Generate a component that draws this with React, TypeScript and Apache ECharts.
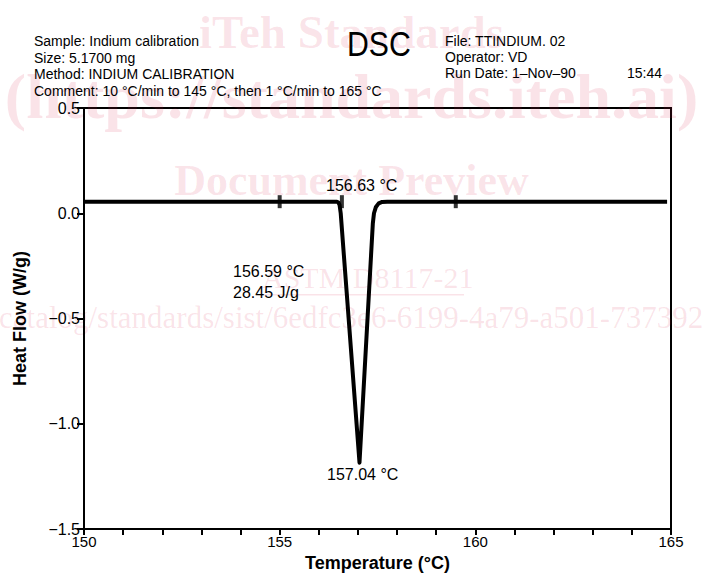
import React, { useEffect, useRef } from "react";
import * as echarts from "echarts";

const temps = [150, 156.45, 156.5, 156.53, 156.56, 157.04, 157.38, 157.41, 157.46, 157.53, 157.62, 157.75, 164.9];
const heatFlow = [0.055, 0.055, 0.052, 0.04, 0.0, -1.185, -0.05, 0.0, 0.03, 0.047, 0.054, 0.055, 0.055];
const markTemps = [155.0, 156.59, 159.5];
const markFlow = [0.055, 0.055, 0.055];
const headerLeft = [
  "Sample: Indium calibration",
  "Size: 5.1700 mg",
  "Method: INDIUM CALIBRATION",
  "Comment: 10 °C/min to 145 °C, then 1 °C/min to 165 °C",
];
const headerRight = ["File: TTINDIUM. 02", "Operator: VD", "Run Date: 1–Nov–90"];

const FONT = "'Liberation Sans', Arial, sans-serif";
const SERIF = "'Liberation Serif', 'DejaVu Serif', serif";
const WM = "rgba(220, 40, 80, 0.13)";

export default function App() {
  const ref = useRef<HTMLDivElement>(null);
  useEffect(() => {
    if (!ref.current) return;
    const chart = echarts.init(ref.current, null, { renderer: "svg" });
    const fmt = (v: number) => v.toFixed(1).replace("-", "−");
    const graphic: any[] = [
      { type: "text", z: 0, left: "center", top: 8, style: { text: "iTeh Standards", font: `bold 47px ${SERIF}`, fill: WM } },
      { type: "text", z: 0, left: "center", top: 64, style: { text: "(https://standards.iteh.ai)", font: `bold 64px ${SERIF}`, fill: WM } },
      { type: "text", z: 0, left: "center", top: 158, style: { text: "Document Preview", font: `bold 44px ${SERIF}`, fill: WM } },
      { type: "text", z: 0, x: 262, y: 262, style: { text: "ASTM D8117-21", font: `30px ${SERIF}`, fill: WM } },
      { type: "rect", z: 0, shape: { x: 262, y: 294, width: 202, height: 1.5 }, style: { fill: WM } },
      { type: "text", z: 0, x: -1, y: 302, style: { text: "catalog/standards/sist/6edfc3e6-6199-4a79-a501-737392d30d3f", font: `31px ${SERIF}`, fill: WM } },
      { type: "text", z: 10, x: 347, y: 26, scaleX: 0.84, style: { text: "DSC", font: `36px ${FONT}`, fill: "#000" } },
      { type: "text", z: 10, x: 627, y: 66, style: { text: "15:44", font: `14px ${FONT}`, fill: "#000" } },
      { type: "text", z: 10, x: 326, y: 177, style: { text: "156.63 °C", font: `16px ${FONT}`, fill: "#000" } },
      { type: "text", z: 10, x: 233, y: 261, style: { text: "156.59 °C\n28.45 J/g", font: `16px ${FONT}`, lineHeight: 21, fill: "#000" } },
      { type: "text", z: 10, x: 327, y: 466, style: { text: "157.04 °C", font: `16px ${FONT}`, fill: "#000" } },
    ];
    headerLeft.forEach((t, i) =>
      graphic.push({ type: "text", z: 10, x: 34, y: 34 + i * 16.6, style: { text: t, font: `14px ${FONT}`, fill: "#000" } })
    );
    headerRight.forEach((t, i) =>
      graphic.push({ type: "text", z: 10, x: 445, y: 34 + i * 16, style: { text: t, font: `14px ${FONT}`, fill: "#000" } })
    );
    chart.setOption({
      animation: false,
      backgroundColor: "#fff",
      graphic,
      grid: { left: 84, right: 32, top: 108, bottom: 52, show: true, borderColor: "#000", borderWidth: 2, backgroundColor: "transparent" },
      xAxis: {
        type: "value",
        min: 150,
        max: 165,
        interval: 1,
        name: "Temperature (°C)",
        nameLocation: "middle",
        nameGap: 25,
        nameTextStyle: { fontFamily: FONT, fontWeight: "bold", fontSize: 18, color: "#000" },
        axisLine: { onZero: false, lineStyle: { color: "#000", width: 2 } },
        axisTick: { length: 6, lineStyle: { color: "#000", width: 2 } },
        axisLabel: {
          fontFamily: FONT,
          fontSize: 15,
          color: "#000",
          margin: 5,
          formatter: (v: number) => (v % 5 === 0 ? String(v) : ""),
        },
        splitLine: { show: false },
      },
      yAxis: {
        type: "value",
        min: -1.5,
        max: 0.5,
        interval: 0.5,
        name: "Heat Flow (W/g)",
        nameLocation: "middle",
        nameGap: 55,
        nameRotate: 90,
        nameTextStyle: { fontFamily: FONT, fontWeight: "bold", fontSize: 18, color: "#000" },
        axisLine: { onZero: false, lineStyle: { color: "#000", width: 2 } },
        axisTick: { length: 7, lineStyle: { color: "#000", width: 2 } },
        axisLabel: { fontFamily: FONT, fontSize: 16, color: "#000", margin: 4, formatter: fmt },
        splitLine: { show: false },
      },
      series: [
        {
          type: "line",
          z: 5,
          data: temps.map((t, i) => [t, heatFlow[i]]),
          showSymbol: false,
          lineStyle: { color: "#000", width: 4, join: "round" },
        },
        {
          type: "scatter",
          z: 6,
          data: markTemps.map((t, i) => [t, markFlow[i]]),
          symbol: "rect",
          symbolSize: [4, 13],
          itemStyle: { color: "#000" },
        },
      ],
    });
    return () => chart.dispose();
  }, []);
  return <div ref={ref} style={{ width: 703, height: 581, position: "absolute", left: 0, top: 0 }} />;
}
